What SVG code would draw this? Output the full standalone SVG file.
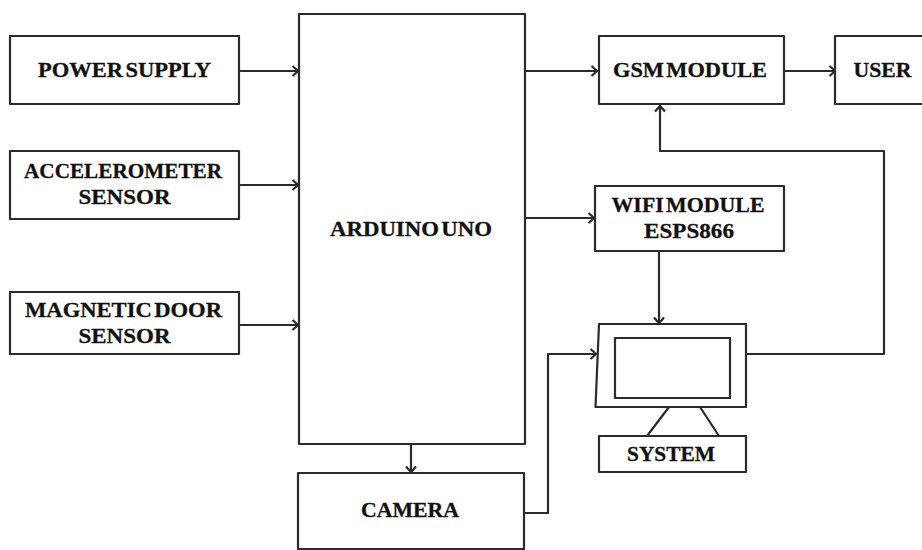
<svg xmlns="http://www.w3.org/2000/svg" width="922" height="550" viewBox="0 0 922 550">
<style>
.b{fill:#fff;stroke:#2b2b2b;stroke-width:2.200;stroke-linejoin:round}
.c{fill:none;stroke:#2b2b2b;stroke-width:2.200;stroke-linejoin:round}
.t{font-family:"Liberation Serif",serif;font-weight:bold;font-size:21px;fill:#111;text-anchor:middle;word-spacing:-3px;stroke:#111;stroke-width:.3px}
</style>
<defs><marker id="a" markerUnits="userSpaceOnUse" markerWidth="12" markerHeight="14" refX="9" refY="7" orient="auto"><path d="M3.500 2L9 7L3.500 12" fill="none" stroke="#2b2b2b" stroke-width="2.200"/></marker></defs>
<rect width="922" height="550" fill="#fff"/>
<g id="connectors">
<path class="c" marker-end="url(#a)" d="M240 71H298"/>
<path class="c" marker-end="url(#a)" d="M240 185H298"/>
<path class="c" marker-end="url(#a)" d="M240 325H298"/>
<path class="c" marker-end="url(#a)" d="M525 71H597"/>
<path class="c" marker-end="url(#a)" d="M525 218H594"/>
<path class="c" marker-end="url(#a)" d="M784 71H835"/>
<path class="c" marker-end="url(#a)" d="M746 354H884V151H660V106"/>
<path class="c" marker-end="url(#a)" d="M659 251V323"/>
<path class="c" marker-end="url(#a)" d="M411 444V472"/>
<path class="c" marker-end="url(#a)" d="M524 513H548V354H596"/>
</g>
<g id="power"><rect class="b" x="10" y="36" width="229" height="68"/><text class="t" x="124.500" y="77" textLength="173" lengthAdjust="spacingAndGlyphs">POWER SUPPLY</text></g>
<g id="accel"><rect class="b" x="10" y="151" width="229" height="68"/><text class="t" x="123" y="178" textLength="198" lengthAdjust="spacingAndGlyphs">ACCELEROMETER</text><text class="t" x="124.500" y="204" textLength="92" lengthAdjust="spacingAndGlyphs">SENSOR</text></g>
<g id="door"><rect class="b" x="10" y="292" width="229" height="62"/><text class="t" x="123.500" y="317" textLength="197" lengthAdjust="spacingAndGlyphs">MAGNETIC DOOR</text><text class="t" x="124.500" y="343" textLength="92" lengthAdjust="spacingAndGlyphs">SENSOR</text></g>
<g id="arduino"><rect class="b" x="299" y="14" width="226" height="430"/><text class="t" x="411" y="236" textLength="162" lengthAdjust="spacingAndGlyphs">ARDUINO UNO</text></g>
<g id="gsm"><rect class="b" x="599" y="36" width="185" height="68"/><text class="t" x="690" y="77" textLength="154" lengthAdjust="spacingAndGlyphs">GSM MODULE</text></g>
<g id="user"><path class="b" d="M923 36H835V104H923"/><text class="t" x="882.500" y="77" textLength="58" lengthAdjust="spacingAndGlyphs">USER</text></g>
<g id="wifi"><rect class="b" x="595" y="186" width="189" height="65"/><text class="t" x="688" y="212" textLength="153" lengthAdjust="spacingAndGlyphs">WIFI MODULE</text><text class="t" x="689" y="238" textLength="90" lengthAdjust="spacingAndGlyphs">ESPS866</text></g>
<g id="monitor"><path class="b" d="M599 324H746V407H595.500Z"/><rect class="b" x="615" y="338" width="115" height="60"/><path class="c" d="M669 407L647 436M700 407L719 436"/></g>
<g id="system"><rect class="b" x="599" y="436" width="147" height="36"/><text class="t" x="671" y="461" textLength="88" lengthAdjust="spacingAndGlyphs">SYSTEM</text></g>
<g id="camera"><rect class="b" x="298" y="473" width="226" height="76"/><text class="t" x="410" y="517" textLength="98" lengthAdjust="spacingAndGlyphs">CAMERA</text></g>
</svg>
